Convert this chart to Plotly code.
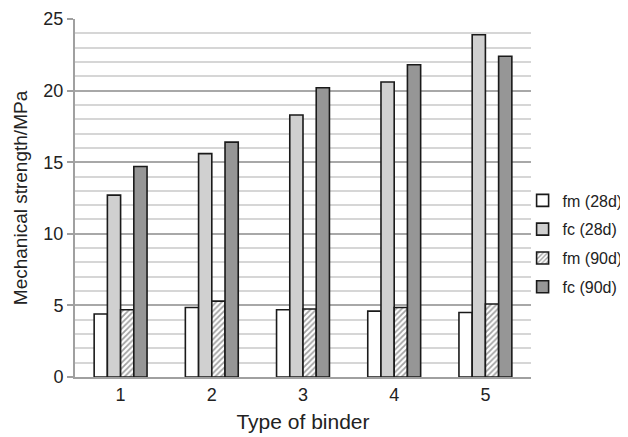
import plotly.graph_objects as go

categories = ["1", "2", "3", "4", "5"]
fm_28d = [4.4, 4.85, 4.7, 4.6, 4.5]
fc_28d = [12.7, 15.6, 18.3, 20.6, 23.9]
fm_90d = [4.7, 5.3, 4.75, 4.85, 5.1]
fc_90d = [14.7, 16.4, 20.2, 21.8, 22.4]

FONT = "Liberation Sans, Arial, sans-serif"
line = dict(color="#1a1a1a", width=1.6)

fig = go.Figure()
fig.add_trace(go.Bar(name="fm (28d)", x=categories, y=fm_28d, legendgroup="a",
                     marker=dict(color="white", line=line)))
fig.add_trace(go.Bar(name="fc (28d)", x=categories, y=fc_28d, legendgroup="b",
                     marker=dict(color="#d0d0d0", line=line)))
fig.add_trace(go.Bar(name="fm (90d)", x=categories, y=fm_90d, legendgroup="c",
                     marker=dict(color="white", line=line,
                                 pattern=dict(shape="/", fgcolor="#444444", bgcolor="white",
                                              size=4, solidity=0.45))))
fig.add_trace(go.Bar(name="fc (90d)", x=categories, y=fc_90d, legendgroup="d",
                     marker=dict(color="#969696", line=line)))

fig.update_layout(
    width=620, height=429,
    margin=dict(l=67, r=97, t=11, b=60, autoexpand=False),
    paper_bgcolor="white", plot_bgcolor="white",
    font=dict(family=FONT, color="#222222"),
    barmode="group", bargap=0.42, bargroupgap=0,
    legend=dict(xref="container", yref="container", x=0.83, y=0.45,
                xanchor="left", yanchor="middle",
                font=dict(size=16, family=FONT, color="#222222"),
                traceorder="grouped", tracegroupgap=5,
                itemwidth=30, bgcolor="rgba(0,0,0,0)"),
    xaxis=dict(showline=True, linecolor="#a0a0a0", linewidth=2, ticks="",
               tickfont=dict(size=18),
               title=dict(text="Type of binder", font=dict(size=21), standoff=11)),
    yaxis=dict(range=[0, 25], dtick=5, showline=True, linecolor="#a0a0a0", linewidth=2,
               ticks="outside", ticklen=6, tickcolor="#a0a0a0", tickwidth=2,
               showgrid=True, gridcolor="#a8a8a8", gridwidth=2, zeroline=False,
               minor=dict(dtick=1, showgrid=True, gridcolor="#d6d6d6", gridwidth=2, ticks=""),
               tickfont=dict(size=18),
               title=dict(text="Mechanical strength/MPa", font=dict(size=19), standoff=11)),
)

fig.write_html("out.html")
